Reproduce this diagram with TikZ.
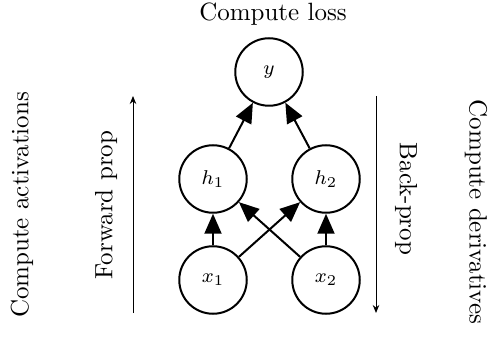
\documentclass[tikz,border=0pt]{standalone}
\usetikzlibrary{arrows.meta}
\begin{document}
\begin{tikzpicture}[x=0.4pt,y=-0.4pt,
  unit/.style={circle,draw,line width=0.8pt,minimum size=27pt,inner sep=0pt,font=\fontsize{8}{9}\selectfont},
  edge/.style={line width=0.8pt,-{Triangle[length=8pt,width=6.8pt]}},
  side/.style={line width=0.4pt,-{Stealth[length=3.2pt,width=2.6pt]}},
  lbl/.style={font=\fontsize{10}{12}\selectfont,inner sep=0pt}]
\useasboundingbox (0,0) rectangle (498,338);
\node[unit] (y) at (269,72) {$y$};
\node[unit] (h1) at (213,179) {$h_1$};
\node[unit] (h2) at (326,179) {$h_2$};
\node[unit] (x1) at (213,280) {$x_1$};
\node[unit] (x2) at (326,280) {$x_2$};
\draw[edge] (x1) -- (h1);
\draw[edge] (x2) -- (h2);
\draw[edge] (x1) -- (h2);
\draw[edge] (x2) -- (h1);
\draw[edge] (h1) -- (y);
\draw[edge] (h2) -- (y);
\node[lbl] (loss) at (273,14) {Compute loss};
\node[lbl,rotate=90] (act) at (22,205) {Compute activations};
\node[lbl,rotate=90] (fwd) at (106,205) {Forward prop};
\node[lbl,rotate=-90] (bp) at (406,199) {Back-prop};
\node[lbl,rotate=-90] (der) at (476,212) {Compute derivatives};
\coordinate (fa) at (133,313);
\coordinate (fb) at (133,96);
\coordinate (ba) at (376,96);
\coordinate (bb) at (376,313);
\draw[side] (fa) -- (fb);
\draw[side] (ba) -- (bb);
\end{tikzpicture}
\end{document}
